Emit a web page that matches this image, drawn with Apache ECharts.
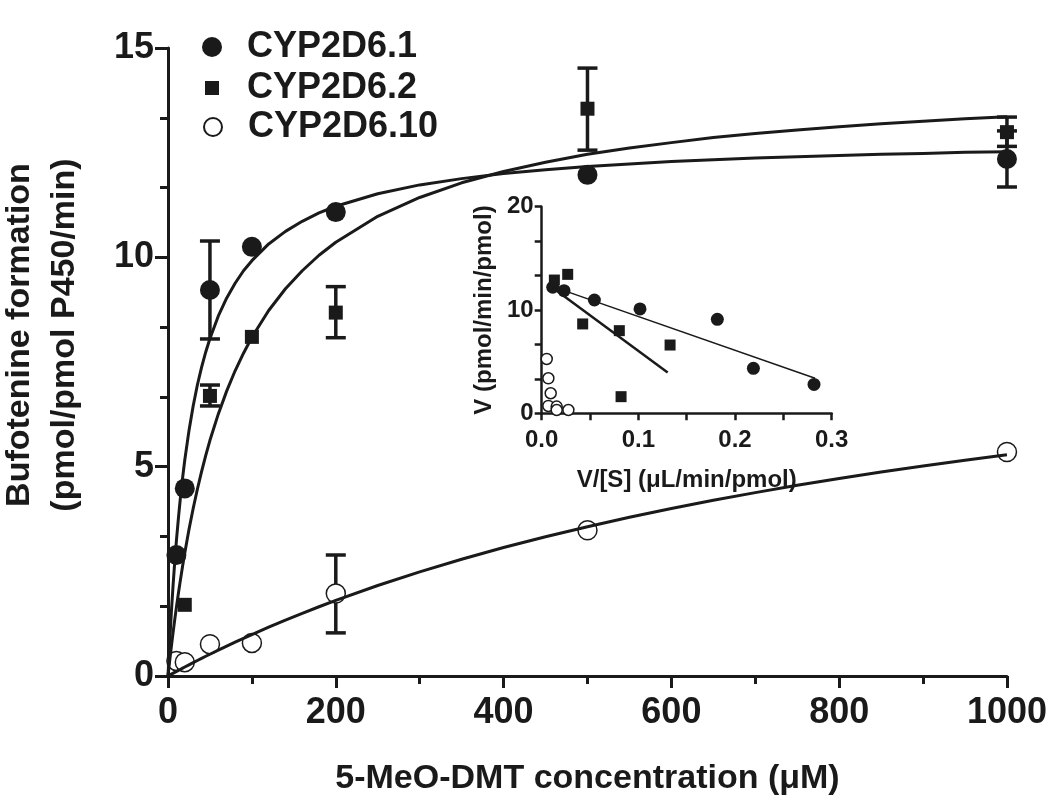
<!DOCTYPE html>
<html>
<head>
<meta charset="utf-8">
<script src="https://cdn.jsdelivr.net/npm/echarts@6/dist/echarts.min.js"></script>
<style>
html,body{margin:0;padding:0;background:#fff}
#c{width:1050px;height:809px}
</style>
</head>
<body>
<div id="c"></div>
<script>
// ---- Main plot data ----
const concentrations = [10, 20, 50, 100, 200, 500, 1000];
const cyp2d6_1 = [2.89, 4.48, 9.22, 10.25, 11.08, 11.97, 12.35];
const cyp2d6_2 = [null, 1.70, 6.69, 8.10, 8.68, 13.55, 12.99];
const cyp2d6_10 = [0.36, 0.33, 0.76, 0.79, 1.97, 3.48, 5.35];

// error bars: [concentration, low, high]
const err_1 = [[50, 8.05, 10.39], [1000, 11.68, 13.02]];
const err_2 = [[50, 6.45, 6.95], [200, 8.08, 9.30], [500, 12.56, 14.52], [1000, 12.65, 13.35]];
const err_10 = [[200, 1.03, 2.89]];

// fitted curves
const fitConc = [0, 2, 4, 6, 8, 10, 12.5, 15, 17.5, 20, 25, 30, 35, 40, 45, 50, 60, 70, 80, 90, 100,
  120, 140, 160, 180, 200, 250, 300, 350, 400, 450, 500, 550, 600, 650, 700, 750, 800, 850, 900, 950, 1000];
const fit_1 = [0, 0.81, 1.52, 2.15, 2.72, 3.23, 3.79, 4.30, 4.75, 5.16, 5.86, 6.45, 6.95, 7.37, 7.74, 8.06, 8.60,
  9.03, 9.38, 9.68, 9.92, 10.32, 10.62, 10.86, 11.06, 11.22, 11.52, 11.73, 11.88, 12.00, 12.09, 12.17, 12.23,
  12.29, 12.33, 12.37, 12.40, 12.43, 12.46, 12.48, 12.51, 12.52];
const fit_2 = [0, 0.36, 0.70, 1.03, 1.34, 1.64, 1.99, 2.32, 2.64, 2.94, 3.50, 4.00, 4.46, 4.88, 5.27, 5.63, 6.26,
  6.81, 7.29, 7.71, 8.09, 8.73, 9.25, 9.68, 10.05, 10.36, 10.98, 11.43, 11.78, 12.05, 12.27, 12.46, 12.61,
  12.74, 12.86, 12.96, 13.04, 13.12, 13.19, 13.25, 13.31, 13.36];
const fit_10 = [0, 0.022, 0.044, 0.065, 0.087, 0.109, 0.135, 0.162, 0.188, 0.215, 0.267, 0.319, 0.37, 0.421,
  0.471, 0.52, 0.618, 0.714, 0.808, 0.90, 0.99, 1.166, 1.335, 1.497, 1.654, 1.805, 2.161, 2.488, 2.789, 3.068,
  3.326, 3.566, 3.791, 4.00, 4.196, 4.38, 4.554, 4.717, 4.871, 5.016, 5.154, 5.285];

// ---- Inset (Eadie-Hofstee) data ----
const eh1_x = [0.0114, 0.0231, 0.0545, 0.1017, 0.1817, 0.219, 0.2817];
const eh1_y = [12.2, 11.87, 10.97, 10.1, 9.1, 4.35, 2.8];
const eh2_x = [0.0131, 0.0269, 0.0424, 0.0803, 0.1328, 0.0821];
const eh2_y = [12.9, 13.45, 8.65, 8.0, 6.61, 1.61];
const eh10_x = [0.0052, 0.0069, 0.0093, 0.0069, 0.0155, 0.0155, 0.0276];
const eh10_y = [5.26, 3.39, 1.94, 0.71, 0.65, 0.32, 0.32];
const ehLine1_x = [0.0114, 0.2828];
const ehLine1_y = [12.26, 3.39];
const ehLine2_x = [0.012, 0.1303];
const ehLine2_y = [12.1, 3.94];

const legendNames = ['CYP2D6.1', 'CYP2D6.2', 'CYP2D6.10'];
const mainXTicks = {min: 0, max: 1000, interval: 200};
const mainYTicks = {min: 0, max: 15, interval: 5};
const insetXTicks = {min: 0, max: 0.3, interval: 0.1};
const insetYTicks = {min: 0, max: 20, interval: 10};

// ---- helpers ----
const INK = '#1a1a1a';
const FONT = '"Liberation Sans", Arial, Helvetica, sans-serif';
const zip = (xs, ys) => xs.map((x, i) => [x, ys[i]]).filter(d => d[1] != null);

function errorBars(data) {
  return {
    type: 'custom', xAxisIndex: 0, yAxisIndex: 0, z: 2, silent: true,
    data: data,
    encode: {x: 0, y: [1, 2]},
    renderItem: function (params, api) {
      const x = api.value(0), lo = api.value(1), hi = api.value(2);
      const a = api.coord([x, lo]), b = api.coord([x, hi]);
      const w = 10;
      const st = {stroke: INK, lineWidth: 3.5};
      return {type: 'group', children: [
        {type: 'line', shape: {x1: a[0], y1: a[1], x2: b[0], y2: b[1]}, style: st},
        {type: 'line', shape: {x1: a[0] - w, y1: a[1], x2: a[0] + w, y2: a[1]}, style: st},
        {type: 'line', shape: {x1: b[0] - w, y1: b[1], x2: b[0] + w, y2: b[1]}, style: st}
      ]};
    }
  };
}

function curve(ys) {
  return {
    type: 'line', xAxisIndex: 0, yAxisIndex: 0, z: 4, silent: true,
    data: zip(fitConc, ys), showSymbol: false, symbol: 'none',
    smooth: false,
    lineStyle: {color: INK, width: 3, join: 'round'}
  };
}

const legendText = {fontFamily: FONT, fontSize: 36, fontWeight: 'bold', color: INK};

const chart = echarts.init(document.getElementById('c'));
chart.setOption({
  animation: false,
  backgroundColor: '#fff',
  grid: [
    {left: 168, right: 40, top: 48, bottom: 133, containLabel: false},
    {left: 541.7, right: 218.3, top: 206.7, bottom: 395.7, containLabel: false}
  ],
  legend: [
    {data: [{name: legendNames[0], icon: 'circle'}], left: 202, top: 29, padding: 0, itemWidth: 20, itemHeight: 20,
     textStyle: Object.assign({padding: [0, 0, 0, 20]}, legendText), selectedMode: false},
    {data: [{name: legendNames[1], icon: 'rect'}], left: 205, top: 70, padding: 0, itemWidth: 14, itemHeight: 14,
     textStyle: Object.assign({padding: [0, 0, 0, 23]}, legendText), selectedMode: false},
    {data: [{name: legendNames[2], icon: 'circle'}], left: 203, top: 109, padding: 0, itemWidth: 18, itemHeight: 18,
     textStyle: Object.assign({padding: [0, 0, 0, 21]}, legendText), selectedMode: false}
  ],
  xAxis: [
    {
      gridIndex: 0, type: 'value', min: mainXTicks.min, max: mainXTicks.max, interval: mainXTicks.interval,
      splitLine: {show: false},
      axisLine: {show: true, onZero: false, lineStyle: {color: INK, width: 3}},
      axisTick: {show: true, length: 12, lineStyle: {color: INK, width: 3}},
      minorTick: {show: true, splitNumber: 2, length: 8, lineStyle: {color: INK, width: 3}},
      axisLabel: {margin: 19, fontFamily: FONT, fontSize: 36, fontWeight: 'bold', color: INK,
                  formatter: v => String(v)},
      name: '5-MeO-DMT concentration (\u03bcM)', nameLocation: 'middle', nameGap: 86,
      nameTextStyle: {fontFamily: FONT, fontSize: 34, fontWeight: 'bold', color: INK}
    },
    {
      gridIndex: 1, type: 'value', min: insetXTicks.min, max: insetXTicks.max, interval: insetXTicks.interval,
      splitLine: {show: false},
      axisLine: {show: true, onZero: false, lineStyle: {color: INK, width: 2.5}},
      axisTick: {show: true, length: 7, lineStyle: {color: INK, width: 2.5}},
      minorTick: {show: true, splitNumber: 2, length: 7, lineStyle: {color: INK, width: 2.5}},
      axisLabel: {margin: 15, fontFamily: FONT, fontSize: 24, fontWeight: 'bold', color: INK,
                  formatter: v => v.toFixed(1)},
      name: 'V/[S] (\u03bcL/min/pmol)', nameLocation: 'middle', nameGap: 55,
      nameTextStyle: {fontFamily: FONT, fontSize: 24, fontWeight: 'bold', color: INK}
    }
  ],
  yAxis: [
    {
      gridIndex: 0, type: 'value', min: mainYTicks.min, max: mainYTicks.max, interval: mainYTicks.interval,
      splitLine: {show: false},
      axisLine: {show: true, onZero: false, lineStyle: {color: INK, width: 3}},
      axisTick: {show: true, length: 13, lineStyle: {color: INK, width: 3}},
      minorTick: {show: true, splitNumber: 3, length: 8, lineStyle: {color: INK, width: 3}},
      axisLabel: {margin: 14, fontFamily: FONT, fontSize: 36, fontWeight: 'bold', color: INK}
    },
    {
      gridIndex: 1, type: 'value', min: insetYTicks.min, max: insetYTicks.max, interval: insetYTicks.interval,
      splitLine: {show: false},
      axisLine: {show: true, onZero: false, lineStyle: {color: INK, width: 2.5}},
      axisTick: {show: true, length: 7, lineStyle: {color: INK, width: 2.5}},
      minorTick: {show: true, splitNumber: 3, length: 7, lineStyle: {color: INK, width: 2.5}},
      axisLabel: {margin: 8, fontFamily: FONT, fontSize: 24, fontWeight: 'bold', color: INK},
      name: 'V (pmol/min/pmol)', nameLocation: 'middle', nameGap: 45, nameRotate: 90,
      nameTextStyle: {fontFamily: FONT, fontSize: 24, fontWeight: 'bold', color: INK}
    }
  ],
  graphic: [
    {type: 'text', x: 20, y: 335, rotation: Math.PI / 2, silent: true,
     style: {text: 'Bufotenine formation', fontFamily: FONT, fontSize: 34, fontWeight: 'bold', fill: INK,
             align: 'center', verticalAlign: 'middle'}},
    {type: 'text', x: 65, y: 335, rotation: Math.PI / 2, silent: true,
     style: {text: '(pmol/pmol P450/min)', fontFamily: FONT, fontSize: 34, fontWeight: 'bold', fill: INK,
             align: 'center', verticalAlign: 'middle'}}
  ],
  series: [
    errorBars(err_1),
    errorBars(err_2),
    errorBars(err_10),
    {name: legendNames[0], type: 'scatter', xAxisIndex: 0, yAxisIndex: 0, z: 3, symbol: 'circle', symbolSize: 20,
     itemStyle: {color: INK, opacity: 1}, data: zip(concentrations, cyp2d6_1)},
    {name: legendNames[1], type: 'scatter', xAxisIndex: 0, yAxisIndex: 0, z: 3, symbol: 'rect', symbolSize: 14,
     itemStyle: {color: INK, opacity: 1}, data: zip(concentrations, cyp2d6_2)},
    {name: legendNames[2], type: 'scatter', xAxisIndex: 0, yAxisIndex: 0, z: 3, symbol: 'circle', symbolSize: 19,
     itemStyle: {color: '#fff', borderColor: INK, borderWidth: 1.5, opacity: 1}, data: zip(concentrations, cyp2d6_10)},
    curve(fit_1),
    curve(fit_2),
    curve(fit_10),
    // inset
    {type: 'line', xAxisIndex: 1, yAxisIndex: 1, z: 4, silent: true, symbol: 'none',
     data: zip(ehLine1_x, ehLine1_y), lineStyle: {color: INK, width: 1.5}},
    {type: 'line', xAxisIndex: 1, yAxisIndex: 1, z: 4, silent: true, symbol: 'none',
     data: zip(ehLine2_x, ehLine2_y), lineStyle: {color: INK, width: 2.5}},
    {type: 'scatter', xAxisIndex: 1, yAxisIndex: 1, z: 3, symbol: 'circle', symbolSize: 13, silent: true,
     itemStyle: {color: INK, opacity: 1}, data: zip(eh1_x, eh1_y)},
    {type: 'scatter', xAxisIndex: 1, yAxisIndex: 1, z: 3, symbol: 'rect', symbolSize: 11, silent: true,
     itemStyle: {color: INK, opacity: 1}, data: zip(eh2_x, eh2_y)},
    {type: 'scatter', xAxisIndex: 1, yAxisIndex: 1, z: 3, symbol: 'circle', symbolSize: 11, silent: true,
     itemStyle: {color: '#fff', borderColor: INK, borderWidth: 1.5, opacity: 1}, data: zip(eh10_x, eh10_y)}
  ]
});
</script>
</body>
</html>
